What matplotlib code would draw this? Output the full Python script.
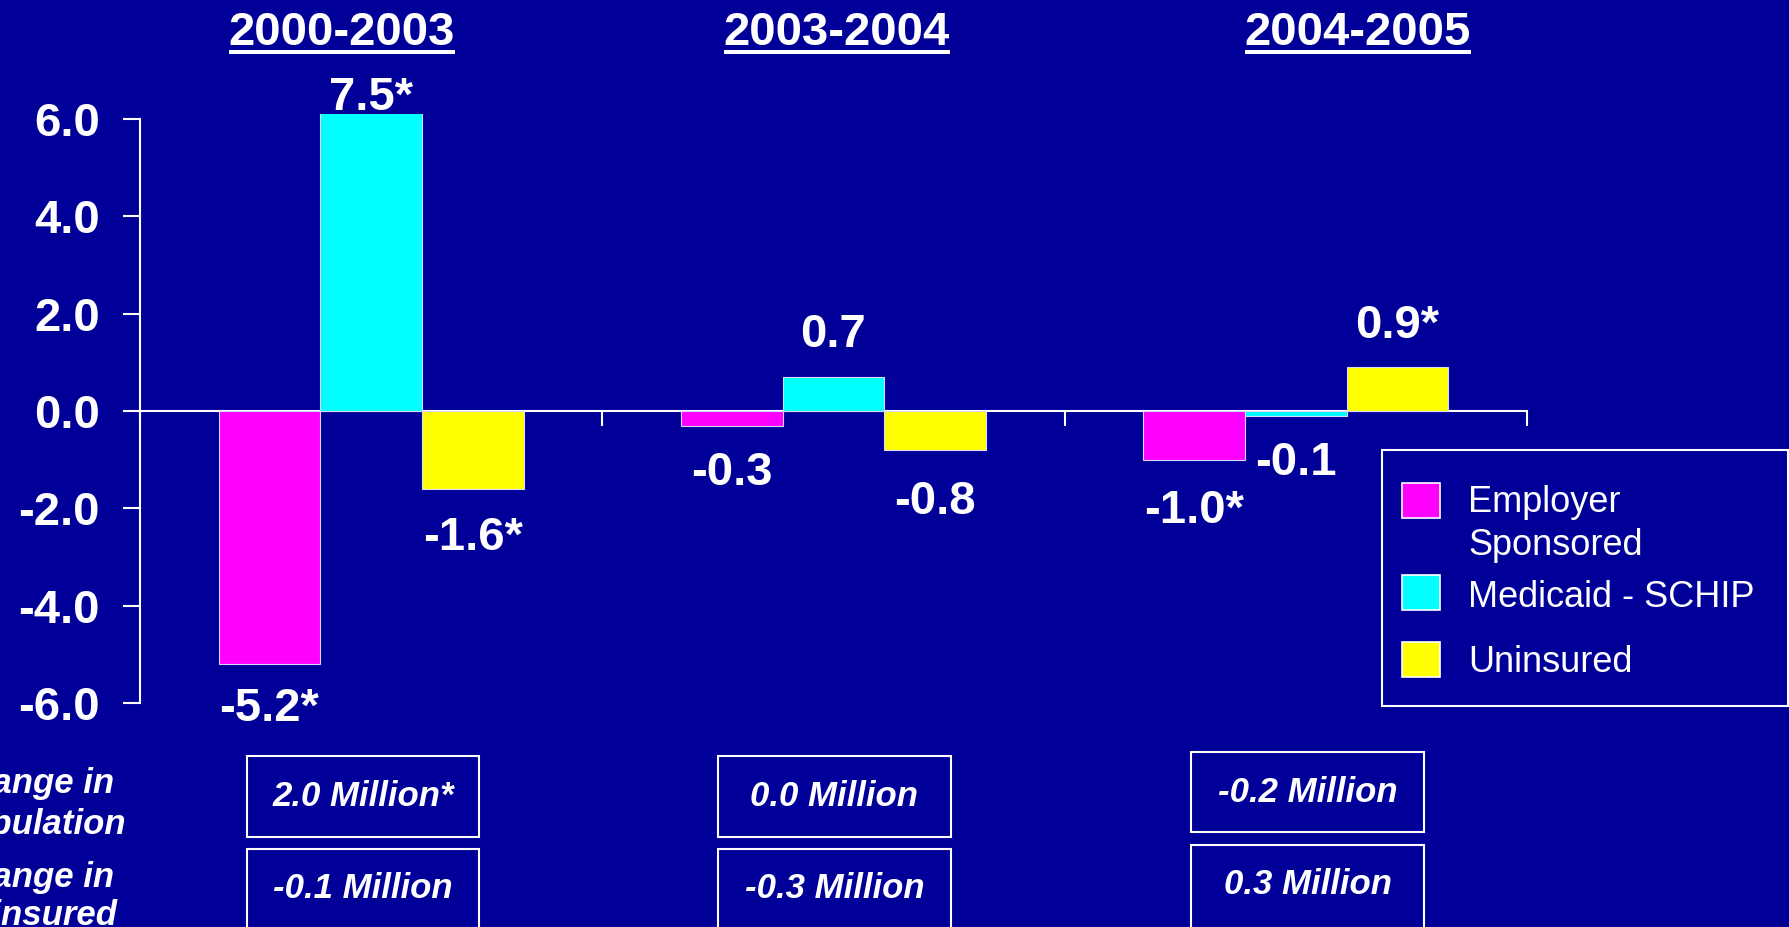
import matplotlib
matplotlib.use("Agg")
import matplotlib.pyplot as plt
from matplotlib.patches import Rectangle
from matplotlib.lines import Line2D
import numpy as np

# ---------------- data ----------------
periods = ["2000-2003", "2003-2004", "2004-2005"]
series_names = ["Employer\nSponsored", "Medicaid - SCHIP", "Uninsured"]
employer = [-5.2, -0.3, -1.0]
medicaid = [7.5, 0.7, -0.1]
uninsured = [-1.6, -0.8, 0.9]
employer_sig = [True, False, True]
medicaid_sig = [True, False, False]
uninsured_sig = [True, False, True]
pop_change = ["2.0 Million*", "0.0 Million", "-0.2 Million"]
uninsured_change = ["-0.1 Million", "-0.3 Million", "0.3 Million"]
row_labels = [["Change in", "Population"], ["Change in", "Uninsured"]]
yticks = [-6.0, -4.0, -2.0, 0.0, 2.0, 4.0, 6.0]

# ---------------- style ----------------
BG = "#000099"
COLORS = ["#FF00FF", "#00FFFF", "#FFFF00"]
W, H = 1790, 927
DPI = 100
plt.rcParams["font.family"] = ["Liberation Sans", "DejaVu Sans"]
plt.rcParams["axes.unicode_minus"] = False

fig = plt.figure(figsize=(W / DPI, H / DPI), dpi=DPI, facecolor=BG)

def fx(px):
    return px / W

def fy(py):
    return 1 - py / H

# axes: x 140..1527 px, y: -6 at 703 px, top (6.11) at ~113.6 px
YMAX = 6.11
ax = fig.add_axes([fx(140), fy(703), fx(1527) - fx(140), fy(113.6) - fy(703)])
ax.set_facecolor(BG)
ax.set_xlim(-0.5, 2.5)
ax.set_ylim(-6, YMAX)

x = np.arange(len(periods))
bw = 0.22
all_series = [employer, medicaid, uninsured]
all_sig = [employer_sig, medicaid_sig, uninsured_sig]
# gap (px) between bar end and label, per series / period
label_gap_px = [[23, 25, 29], [4, 30, 25], [27, 30, 29]]

for i, (vals, sig) in enumerate(zip(all_series, all_sig)):
    xs = x + (i - 1) * bw
    ax.bar(xs, vals, width=bw, color=COLORS[i], edgecolor="#d8d8ff",
           linewidth=0.8, zorder=3)
    for j, (xx, v) in enumerate(zip(xs, vals)):
        txt = f"{v:.1f}" + ("*" if sig[j] else "")
        gap = label_gap_px[i][j] * 72 / DPI
        if v >= 0:
            yv = min(v, YMAX)
            ax.annotate(txt, (xx, yv), xytext=(0, gap), textcoords="offset points",
                        ha="center", va="baseline", color="white",
                        fontsize=34, fontweight="bold", annotation_clip=False)
        else:
            ax.annotate(txt, (xx, v), xytext=(0, -gap), textcoords="offset points",
                        ha="center", va="top", color="white",
                        fontsize=34, fontweight="bold", annotation_clip=False)

# spines
for s in ["top", "right"]:
    ax.spines[s].set_visible(False)
ax.spines["left"].set_color("white")
ax.spines["left"].set_linewidth(1.5)
ax.spines["left"].set_bounds(-6, 6)
ax.spines["bottom"].set_color("white")
ax.spines["bottom"].set_linewidth(1.5)
ax.spines["bottom"].set_position(("data", 0))

ax.set_yticks(yticks)
ax.set_yticklabels([f"{t:.1f}" for t in yticks])
ax.tick_params(axis="y", colors="white", direction="out", length=12, width=1.5,
               pad=17, labelsize=34)
for lab in ax.get_yticklabels():
    lab.set_fontweight("bold")
ax.set_xticks([-0.5, 0.5, 1.5, 2.5])
ax.set_xticklabels([])
ax.tick_params(axis="x", colors="white", direction="out", length=11, width=1.5)

# ---------------- titles (underlined) ----------------
title_cx = [342, 837, 1358]
titles = []
for cx, p in zip(title_cx, periods):
    t = fig.text(fx(cx), fy(45), p, ha="center", va="baseline", color="white",
                 fontsize=34, fontweight="bold")
    titles.append(t)

# ---------------- bottom boxes ----------------
box_x = [(247, 479), (718, 951), (1191, 1424)]
row1_y = [(756, 837), (756, 837), (752, 832)]
row2_y = [(849, 940), (849, 940), (845, 940)]
for k in range(3):
    for (y0, y1), txt in ((row1_y[k], pop_change[k]), (row2_y[k], uninsured_change[k])):
        x0, x1 = box_x[k]
        fig.patches.append(Rectangle((fx(x0), fy(y1)), fx(x1) - fx(x0), fy(y0) - fy(y1),
                                     transform=fig.transFigure, fill=False,
                                     edgecolor="white", linewidth=1.5))
        yc = (y0 + 796 - 756) if y1 < 900 else (y0 + 40)
        fig.text(fx((x0 + x1) / 2), fy(yc), txt, ha="center", va="center",
                 color="white", fontsize=25, fontweight="bold", fontstyle="italic")

# row labels (partly cut off at left edge)
row_baselines = [[793, 834], [887, 925]]
for lines, bls in zip(row_labels, row_baselines):
    for ln, bl in zip(lines, bls):
        fig.text(fx(-54), fy(bl), ln, ha="left", va="baseline", color="white",
                 fontsize=25, fontweight="bold", fontstyle="italic")

# ---------------- legend ----------------
fig.patches.append(Rectangle((fx(1382), fy(706)), fx(1788) - fx(1382), fy(450) - fy(706),
                             transform=fig.transFigure, fill=False,
                             edgecolor="white", linewidth=1.5))
sw_y = [(483, 518), (575, 610), (642, 677)]
txt_baselines = [[512, 555], [607], [672]]
for i, name in enumerate(series_names):
    y0, y1 = sw_y[i]
    fig.patches.append(Rectangle((fx(1402), fy(y1)), fx(1440) - fx(1402), fy(y0) - fy(y1),
                                 transform=fig.transFigure, facecolor=COLORS[i],
                                 edgecolor="white", linewidth=1.2))
    for ln, bl in zip(name.split("\n"), txt_baselines[i]):
        fig.text(fx(1468), fy(bl), ln, ha="left", va="baseline", color="white",
                 fontsize=26)

# underline titles
fig.canvas.draw()
r = fig.canvas.get_renderer()
for t in titles:
    bb = t.get_window_extent(renderer=r)
    fig.add_artist(Line2D([bb.x0 / W, bb.x1 / W], [fy(52), fy(52)],
                          transform=fig.transFigure, color="white", linewidth=2.9,
                          solid_capstyle="butt"))

fig.savefig("out.png", dpi=DPI, facecolor=BG)
